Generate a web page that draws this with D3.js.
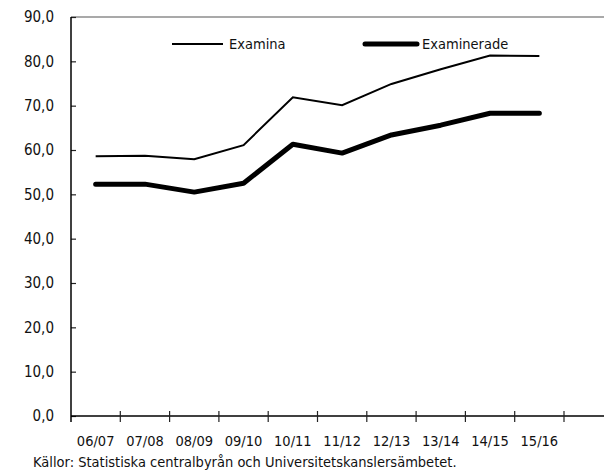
<!DOCTYPE html>
<html>
<head>
<meta charset="utf-8">
<script src="https://cdn.jsdelivr.net/npm/d3@7"></script>
<style>
  body { margin: 0; background: #fff; }
  svg text { font-family: "DejaVu Sans Condensed", "Liberation Sans Narrow", sans-serif; font-stretch: condensed; fill: #111; }
</style>
</head>
<body>
<div id="chart"></div>
<script>
var years = ["06/07", "07/08", "08/09", "09/10", "10/11", "11/12", "12/13", "13/14", "14/15", "15/16"];
var examina = [58.6, 58.7, 57.9, 61.1, 71.9, 70.1, 74.9, 78.2, 81.3, 81.2];
var examinerade = [52.3, 52.3, 50.5, 52.5, 61.3, 59.3, 63.4, 65.6, 68.3, 68.3];
var yTicks = [0, 10, 20, 30, 40, 50, 60, 70, 80, 90];

var width = 604, height = 475;
var margin = {top: 17, left: 71, bottom: 416};
var step = 49.3;

var svg = d3.select("#chart")
  .append("svg")
  .attr("width", width)
  .attr("height", height);

var x = d3.scaleBand()
  .domain(years)
  .range([margin.left, margin.left + step * years.length]);

var y = d3.scaleLinear()
  .domain([0, 90])
  .range([margin.bottom, margin.top]);

var comma = d3.formatLocale({decimal: ",", thousands: " ", grouping: [3], currency: ["", ""]}).format(".1f");

// top border
svg.append("line")
  .attr("x1", margin.left).attr("x2", width)
  .attr("y1", y(90)).attr("y2", y(90))
  .attr("stroke", "#555").attr("stroke-width", 1.2);

// y axis
var yAxis = svg.append("g")
  .attr("transform", "translate(" + margin.left + ",0)")
  .call(d3.axisRight(y).tickValues(yTicks).tickSize(5).tickFormat(""));
yAxis.select(".domain").remove();
yAxis.selectAll(".tick line").attr("stroke", "#222").attr("stroke-width", 1.2);
yAxis.append("line")
  .attr("x1", 0).attr("x2", 0)
  .attr("y1", y(90)).attr("y2", y(0) + 6)
  .attr("stroke", "#000").attr("stroke-width", 1.5);

svg.selectAll(".ylab")
  .data(yTicks)
  .enter().append("text")
  .attr("class", "ylab")
  .attr("x", 54)
  .attr("y", d => y(d))
  .attr("dy", "0.36em")
  .attr("text-anchor", "end")
  .style("font-size", "15px")
  .text(d => comma(d));

// x axis
svg.append("line")
  .attr("x1", margin.left).attr("x2", width)
  .attr("y1", y(0)).attr("y2", y(0))
  .attr("stroke", "#000").attr("stroke-width", 1.5);

svg.selectAll(".xtick")
  .data(years.slice(1).concat(["end"]))
  .enter().append("line")
  .attr("class", "xtick")
  .attr("x1", (d, i) => x(years[0]) + x.step() * (i + 1))
  .attr("x2", (d, i) => x(years[0]) + x.step() * (i + 1))
  .attr("y1", y(0) - 5).attr("y2", y(0) + 6)
  .attr("stroke", "#222").attr("stroke-width", 1.2);

svg.selectAll(".xlab")
  .data(years)
  .enter().append("text")
  .attr("class", "xlab")
  .attr("x", d => x(d) + x.bandwidth() / 2)
  .attr("y", 446)
  .attr("text-anchor", "middle")
  .style("font-size", "14.5px")
  .text(d => d);

// lines
var line = d3.line()
  .x((d, i) => x(years[i]) + x.bandwidth() / 2)
  .y(d => y(d));

svg.append("path")
  .datum(examina)
  .attr("fill", "none")
  .attr("stroke", "#000")
  .attr("stroke-width", 2)
  .attr("d", line);

svg.append("path")
  .datum(examinerade)
  .attr("fill", "none")
  .attr("stroke", "#000")
  .attr("stroke-width", 5)
  .attr("stroke-linecap", "round")
  .attr("stroke-linejoin", "round")
  .attr("d", line);

// legend
var legend = [
  {name: "Examina", w: 2, x1: 172, x2: 223, tx: 229},
  {name: "Examinerade", w: 5, x1: 365, x2: 417, tx: 422}
];
legend.forEach(function(l) {
  svg.append("line")
    .attr("x1", l.x1).attr("x2", l.x2)
    .attr("y1", 44).attr("y2", 44)
    .attr("stroke", "#000")
    .attr("stroke-width", l.w)
    .attr("stroke-linecap", l.w > 2 ? "round" : "butt");
  svg.append("text")
    .attr("x", l.tx)
    .attr("y", 44)
    .attr("dy", "0.36em")
    .style("font-size", "14.5px")
    .text(l.name);
});

// source
svg.append("text")
  .attr("x", 33)
  .attr("y", 467)
  .style("font-size", "14.5px")
  .text("Källor: Statistiska centralbyrån och Universitetskanslersämbetet.");
</script>
</body>
</html>
